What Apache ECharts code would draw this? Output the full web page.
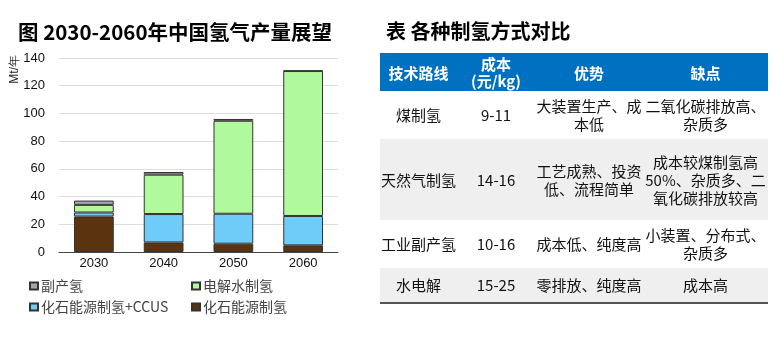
<!DOCTYPE html>
<html><head><meta charset="utf-8">
<script src="https://cdn.jsdelivr.net/npm/echarts@6/dist/echarts.min.js"></script>
<style>
html,body{margin:0;padding:0;background:#fff;width:773px;height:346px;overflow:hidden;font-family:"Noto Sans CJK SC","Noto Sans",sans-serif;}
#chart{position:absolute;left:0;top:0;width:370px;height:346px;}
#tbl{position:absolute;left:0;top:0;width:773px;height:346px;}
.t{position:absolute;font-weight:bold;font-size:20px;color:#000;white-space:nowrap;line-height:24px;}
.cell{position:absolute;display:flex;align-items:center;justify-content:center;text-align:center;font-size:15px;line-height:18px;color:#111;white-space:nowrap;}
.hd{color:#fff;font-weight:bold;font-size:15px;line-height:17px;}
</style></head><body>
<div id="chart"></div>
<div id="tbl"></div>
<script>
const categories = ['2030','2040','2050','2060'];
const fossil = [25.6, 6.9, 6.0, 4.8];
const fossilCCUS = [2.9, 20.5, 21.6, 21.2];
const electrolysis = [5.5, 28.4, 67.1, 104.6];
const byproduct = [3.1, 1.9, 1.3, 0.3];
const yTicks = [0, 20, 40, 60, 80, 100, 120, 140];
const seriesNames = ['副产氢','电解水制氢','化石能源制氢+CCUS','化石能源制氢'];
const colors = {'副产氢':'#a6a6a6','电解水制氢':'#b1f99d','化石能源制氢+CCUS':'#6fcbf7','化石能源制氢':'#5b330f'};

const tableHeader = ['技术路线','成本<br>(元/kg)','优势','缺点'];
const tableRows = [
  ['煤制氢','9-11','大装置生产、成<br>本低','二氧化碳排放高、<br>杂质多'],
  ['天然气制氢','14-16','工艺成熟、投资<br>低、流程简单','成本较煤制氢高<br>50%、杂质多、二<br>氧化碳排放较高'],
  ['工业副产氢','10-16','成本低、纯度高','小装置、分布式、<br>杂质多'],
  ['水电解','15-25','零排放、纯度高','成本高']
];

// HTML titles and table
const tbl = document.getElementById('tbl');
function add(cls, style, html){const d=document.createElement('div');d.className=cls;Object.assign(d.style,style);d.innerHTML=html;tbl.appendChild(d);}
add('t',{left:'18px',top:'19px',fontSize:'20.5px'},'图 2030-2060年中国氢气产量展望');
add('t',{left:'386px',top:'19px'},'表 各种制氢方式对比');
const colX=[380,457,535,643,768];
const rowY=[53,91,139,220,268,302];
const rowBg=['#0070c0','#ffffff','#efefef','#ffffff','#efefef'];
for(let r=0;r<5;r++){
  add('cell',{left:'380px',top:rowY[r]+'px',width:'388px',height:(rowY[r+1]-rowY[r])+'px',background:rowBg[r]},'');
  const vals = r===0?tableHeader:tableRows[r-1];
  for(let c=0;c<4;c++){
    add('cell'+(r===0?' hd':''),{left:colX[c]+'px',top:rowY[r]+'px',width:(colX[c+1]-colX[c])+'px',height:(rowY[r+1]-rowY[r])+'px'},vals[c]);
  }
}
add('cell',{left:'380px',top:'302px',width:'388px',height:'2px',background:'#555'},'');

const chart = echarts.init(document.getElementById('chart'));
const dataMap = {'副产氢':byproduct,'电解水制氢':electrolysis,'化石能源制氢+CCUS':fossilCCUS,'化石能源制氢':fossil};
const stackOrder = ['化石能源制氢','化石能源制氢+CCUS','电解水制氢','副产氢'];
const legendPos = [[24,274],[186,274],[24,295],[186,295]];
option = {
  animation:false,
  grid:{left:59,right:32,top:58,bottom:94},
  xAxis:{type:'category',data:categories,
    axisLine:{lineStyle:{color:'#444',width:1}},axisTick:{show:false},
    axisLabel:{color:'#111',fontSize:13,fontFamily:'Liberation Sans',margin:5}},
  yAxis:{type:'value',min:0,max:140,interval:20,
    axisLine:{show:false},axisTick:{show:false},
    axisLabel:{color:'#111',fontSize:13,fontFamily:'Liberation Sans',margin:14},
    splitLine:{lineStyle:{color:'#dcdcdc',width:1}}},
  legend: seriesNames.map((n,i)=>({data:[n],left:legendPos[i][0],top:legendPos[i][1],
    icon:'rect',itemWidth:8,itemHeight:7,itemGap:4,
    textStyle:{fontSize:14,color:'#444',fontFamily:'Noto Sans CJK SC',padding:[0,0,0,-2]}})),
  graphic:[{type:'text',left:9,top:55,rotation:Math.PI/2,
    style:{text:'Mt/年',fontSize:12,fill:'#222',fontFamily:'Liberation Sans'}}],
  series: stackOrder.map(n=>({name:n,type:'bar',stack:'a',data:dataMap[n],barWidth:'57%',
    itemStyle:{color:colors[n],borderColor:'#333',borderWidth:1}}))
};
chart.setOption(option);
</script>
</body></html>
